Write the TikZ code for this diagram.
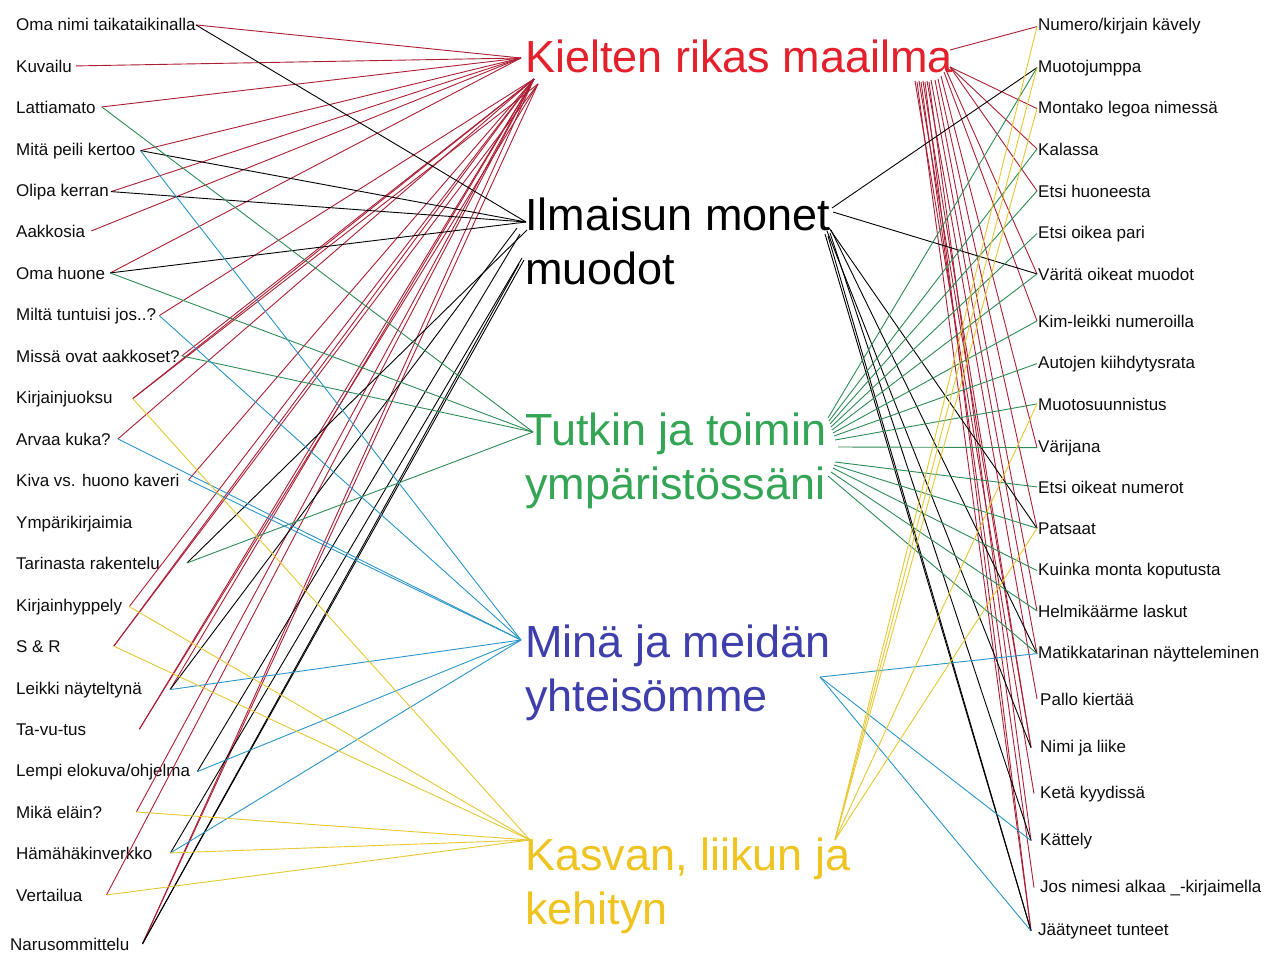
\documentclass[tikz,border=0pt]{standalone}
\usepackage{fontspec}
\setmainfont{Liberation Sans}
\definecolor{tred}{RGB}{228,32,44}
\definecolor{lred}{RGB}{172,30,52}
\definecolor{tgreen}{RGB}{52,165,85}
\definecolor{lgreen}{RGB}{45,140,85}
\definecolor{tblue}{RGB}{62,62,172}
\definecolor{lblue}{RGB}{40,150,200}
\definecolor{tyellow}{RGB}{240,196,32}
\definecolor{lyellow}{RGB}{232,200,50}
\begin{document}
\begin{tikzpicture}[x=1pt,y=-1pt,
  lbl/.style={anchor=base west,inner sep=0pt,font=\fontsize{17}{20}\selectfont,text=black!95},
  ttl/.style={anchor=north west,inner sep=0pt,align=left,font=\fontsize{45}{54}\selectfont},
  conn/.style={line width=0.9pt},
  redc/.style={conn,draw=lred},
  blkc/.style={conn,draw=black},
  grnc/.style={conn,draw=lgreen},
  bluc/.style={conn,draw=lblue},
  yelc/.style={conn,draw=lyellow}]
\fill[white] (0,0) rectangle (1268,958);
\useasboundingbox (0,0) rectangle (1268,958);

% titles
\node[ttl,text=tred] (kielten) at (525,40) {Kielten rikas maailma};
\node[ttl,text=black] (ilmaisun) at (525,198) {Ilmaisun monet\\muodot};
\node[ttl,text=tgreen] (tutkin) at (525,413) {Tutkin ja toimin\\ympäristössäni};
\node[ttl,text=tblue] (mina) at (525,625) {Minä ja meidän\\yhteisömme};
\node[ttl,text=tyellow] (kasvan) at (525,838) {Kasvan, liikun ja\\kehityn};

% left labels
\node[lbl] (l1) at (16,31) {Oma nimi taikataikinalla};
\node[lbl] (l2) at (16,72) {Kuvailu};
\node[lbl] (l3) at (16,113) {Lattiamato};
\node[lbl] (l4) at (16,155) {Mitä peili kertoo};
\node[lbl] (l5) at (16,196) {Olipa kerran};
\node[lbl] (l6) at (16,237) {Aakkosia};
\node[lbl] (l7) at (16,279) {Oma huone};
\node[lbl] (l8) at (16,320) {Miltä tuntuisi jos..?};
\node[lbl] (l9) at (16,362) {Missä ovat aakkoset?};
\node[lbl] (l10) at (16,403) {Kirjainjuoksu};
\node[lbl] (l11) at (16,445) {Arvaa kuka?};
\node[lbl] (l12) at (16,486) {Kiva vs. huono kaveri};
\node[lbl] (l13) at (16,528) {Ympärikirjaimia};
\node[lbl] (l14) at (16,569) {Tarinasta rakentelu};
\node[lbl] (l15) at (16,611) {Kirjainhyppely};
\node[lbl] (l16) at (16,652) {S \& R};
\node[lbl] (l17) at (16,694) {Leikki näyteltynä};
\node[lbl] (l18) at (16,735) {Ta-vu-tus};
\node[lbl] (l19) at (16,776) {Lempi elokuva/ohjelma};
\node[lbl] (l20) at (16,818) {Mikä eläin?};
\node[lbl] (l21) at (16,859) {Hämähäkinverkko};
\node[lbl] (l22) at (16,901) {Vertailua};
\node[lbl] (l23) at (10,950) {Narusommittelu};

% right labels
\node[lbl] (r1) at (1038,31) {Numero/kirjain kävely};
\node[lbl] (r2) at (1038,72) {Muotojumppa};
\node[lbl] (r3) at (1038,113) {Montako legoa nimessä};
\node[lbl] (r4) at (1038,155) {Kalassa};
\node[lbl] (r5) at (1038,197) {Etsi huoneesta};
\node[lbl] (r6) at (1038,238) {Etsi oikea pari};
\node[lbl] (r7) at (1038,280) {Väritä oikeat muodot};
\node[lbl] (r8) at (1038,327) {Kim-leikki numeroilla};
\node[lbl] (r9) at (1038,368) {Autojen kiihdytysrata};
\node[lbl] (r10) at (1038,410) {Muotosuunnistus};
\node[lbl] (r11) at (1038,452) {Värijana};
\node[lbl] (r12) at (1038,493) {Etsi oikeat numerot};
\node[lbl] (r13) at (1038,534) {Patsaat};
\node[lbl] (r14) at (1038,575) {Kuinka monta koputusta};
\node[lbl] (r15) at (1038,617) {Helmikäärme laskut};
\node[lbl] (r16) at (1038,658) {Matikkatarinan näytteleminen};
\node[lbl] (r17) at (1040,705) {Pallo kiertää};
\node[lbl] (r18) at (1040,752) {Nimi ja liike};
\node[lbl] (r19) at (1040,798) {Ketä kyydissä};
\node[lbl] (r20) at (1040,845) {Kättely};
\node[lbl] (r21) at (1040,892) {Jos nimesi alkaa \_-kirjaimella};
\node[lbl] (r22) at (1038,935) {Jäätyneet tunteet};

% left end points
\foreach \n/\dx in {1/0,2/4,3/6,4/5,5/2,6/6,7/5,8/3,9/2,10/20,11/7,12/9,13/0,14/27,15/7,16/53,17/28,18/53,19/7,20/34,21/18,22/24,23/13}
  \coordinate (p\n) at ([xshift=\dx pt]l\n.east);
% right end points
\foreach \n/\dx in {1/-1,2/-1,3/-1,4/-1,5/-1,6/-1,7/-1,8/-1,9/-1,10/-1,11/-1,12/-1,13/-1,14/-1,15/-1,16/-1,17/-3,18/-9,19/-6,20/-9,21/-6,22/-7}
  \coordinate (q\n) at ([xshift=\dx pt]r\n.west);

% hubs at the titles
\coordinate (kS) at (521,58);
\coordinate (kD) at (534,79);
\coordinate (kD2) at (538,84);
\coordinate (iS) at (526,222);
\coordinate (tL) at (533,432);
\coordinate (mL) at (521,640);
\coordinate (yL) at (530,840);
\coordinate (mR) at (820,677);
\coordinate (yR) at (835,840);

% red, left
\foreach \a in {1,...,7} \draw[redc] (p\a) -- (kS);
\foreach \a in {8,9,10,11,12,15,16,17,18,20,22,23} \draw[redc] (p\a) -- (kD);
\foreach \a in {10,16,18,23} \draw[redc] (p\a) -- (kD2);
% black, left
\foreach \a in {1,4,5,7} \draw[blkc] (p\a) -- (iS);
\coordinate (i1) at (527,230);
\coordinate (i2) at (517,228);
\coordinate (i3) at (520,234);
\coordinate (i4) at (522,258);
\coordinate (i5) at (519,264);
\coordinate (i6) at (524,260);
\draw[blkc] (p14) -- (i1);
\draw[blkc] (p17) -- (i2);
\draw[blkc] (p19) -- (i3);
\draw[blkc] (p21) -- (i4);
\draw[blkc] (p23) -- (i5);
\draw[blkc] (p23) -- (i6);
% green, left
\foreach \a in {3,7,9,14} \draw[grnc] (p\a) -- (tL);
% blue, left
\foreach \a in {4,8,11,12,17,19,21} \draw[bluc] (p\a) -- (mL);
% yellow, left
\foreach \a in {10,15,16,20,21,22} \draw[yelc] (p\a) -- (yL);

% red, right
\coordinate (kr1) at (950,50);
\coordinate (kr2) at (950,67);
\draw[redc] (kr1) -- (q1);
\foreach \b in {3,4,5} \draw[redc] (kr2) -- (q\b);
\foreach \x/\y/\b in {946/70/7,944/72/8,941/76/11,938/79/13,935/80/15,931/80/16,927/81/17,923/81/18,919/81/18,915/81/19,929/82/20,921/82/21,917/82/22,925/82/22}
  {\coordinate (ks) at (\x,\y); \draw[redc] (ks) -- (q\b);}
% black, right
\foreach \x/\y/\b in {832/208/2,833/212/7,829/228/13,831/230/16,827/231/18,830/233/20,825/234/22,828/236/22}
  {\coordinate (is) at (\x,\y); \draw[blkc] (is) -- (q\b);}
% green, right
\foreach \x/\y/\b in {828/418/2,829/421/4,830/424/5,831/427/6,832/430/7,833/433/8,834/436/9,835/440/10,838/447/11,835/462/12,834/465/13,833/468/14,831/472/15,828/476/16}
  {\coordinate (ts) at (\x,\y); \draw[grnc] (ts) -- (q\b);}
% blue, right
\foreach \b in {16,20,22} \draw[bluc] (mR) -- (q\b);
% yellow, right
\foreach \b in {1,2,3,10,13} \draw[yelc] (yR) -- (q\b);
\end{tikzpicture}
\end{document}
